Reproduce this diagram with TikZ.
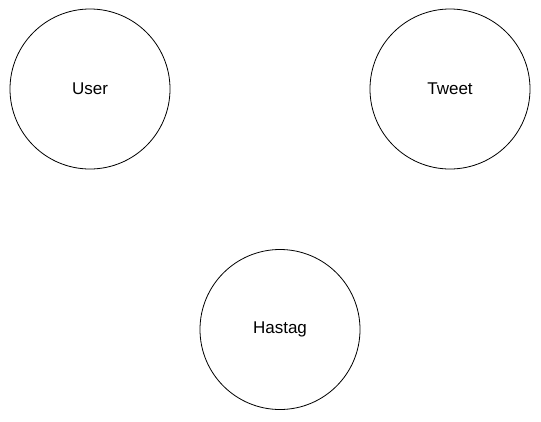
\documentclass[tikz,border=0pt]{standalone}
\usepackage{fontspec}
\setmainfont{Liberation Sans}
\begin{document}
\begin{tikzpicture}[x=1pt,y=-1pt,
  entity/.style={circle,draw=black,line width=0.8pt,minimum size=160pt,inner sep=0pt,font=\fontsize{17}{20}\selectfont}]
\useasboundingbox (0,0) rectangle (541,421);
\node[entity] (user) at (90,89) {User};
\node[entity] (tweet) at (450,89) {Tweet};
\node[entity] (hastag) at (280,329.5) {Hastag};
\end{tikzpicture}
\end{document}
